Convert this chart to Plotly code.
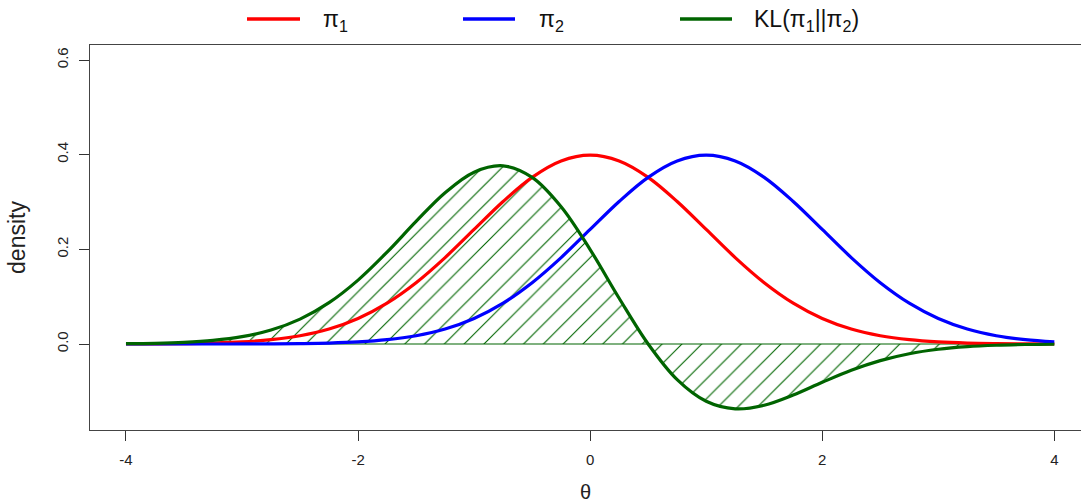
import plotly.graph_objects as go

# theta grid (step 0.25) and densities
theta = [-4.0, -3.75, -3.5, -3.25, -3.0, -2.75, -2.5, -2.25, -2.0, -1.75, -1.5, -1.25,
         -1.0, -0.75, -0.5, -0.25, 0.0, 0.25, 0.5, 0.75, 1.0, 1.25, 1.5, 1.75,
         2.0, 2.25, 2.5, 2.75, 3.0, 3.25, 3.5, 3.75, 4.0]

pi1 = [0.0001, 0.0004, 0.0009, 0.0020, 0.0044, 0.0091, 0.0175, 0.0317, 0.0540, 0.0863,
       0.1295, 0.1826, 0.2420, 0.3011, 0.3521, 0.3867, 0.3989, 0.3867, 0.3521, 0.3011,
       0.2420, 0.1826, 0.1295, 0.0863, 0.0540, 0.0317, 0.0175, 0.0091, 0.0044, 0.0020,
       0.0009, 0.0004, 0.0001]

pi2 = [0.0000, 0.0000, 0.0000, 0.0000, 0.0001, 0.0004, 0.0009, 0.0020, 0.0044,
       0.0091, 0.0175, 0.0317, 0.0540, 0.0863, 0.1295, 0.1826, 0.2420, 0.3011, 0.3521,
       0.3867, 0.3989, 0.3867, 0.3521, 0.3011, 0.2420, 0.1826, 0.1295, 0.0863, 0.0540,
       0.0317, 0.0175, 0.0091, 0.0044]

kl = [0.0006, 0.0015, 0.0035, 0.0076, 0.0155, 0.0295, 0.0526, 0.0873, 0.1350, 0.1941,
      0.2590, 0.3196, 0.3630, 0.3764, 0.3521, 0.2900, 0.1995, 0.0967, 0.0000, -0.0753,
      -0.1210, -0.1370, -0.1295, -0.1079, -0.0810, -0.0555, -0.0351, -0.0205, -0.0111,
      -0.0056, -0.0026, -0.0011, -0.0005]

x_ticks = [-4, -2, 0, 2, 4]
y_ticks = [0.0, 0.2, 0.4, 0.6]
y_ticklabels = ["0.0", "0.2", "0.4", "0.6"]

RED = "#ff0000"
BLUE = "#0000ff"
GREEN = "#006400"

fig = go.Figure()

# hatched KL area
fig.add_trace(go.Scatter(
    x=theta, y=kl, mode="lines", line=dict(color=GREEN, width=0, shape="spline"),
    fill="tozeroy", fillcolor="rgba(0,0,0,0)",
    fillpattern=dict(shape="/", fgcolor=GREEN, bgcolor="rgba(0,0,0,0)", size=14,
                     solidity=0.08, fgopacity=1),
    showlegend=False, hoverinfo="skip"))

fig.add_trace(go.Scatter(x=theta, y=pi1, mode="lines",
                         line=dict(color=RED, width=3.2, shape="spline"), showlegend=False))
fig.add_trace(go.Scatter(x=theta, y=pi2, mode="lines",
                         line=dict(color=BLUE, width=3.2, shape="spline"), showlegend=False))
fig.add_trace(go.Scatter(x=theta, y=kl, mode="lines",
                         line=dict(color=GREEN, width=3.2, shape="spline"), showlegend=False))

# polygon baseline
fig.add_shape(type="line", xref="x", yref="y", x0=theta[0], x1=theta[-1], y0=0, y1=0,
              line=dict(color=GREEN, width=1.2), layer="below")

W, H = 1081, 503
L, R_, T, B = 90, 0, 45, 73
PW, PH = W - L - R_, H - T - B
legend_items = [("π<sub>1</sub>", RED, 247, 300, 321),
                ("π<sub>2</sub>", BLUE, 463, 515, 537),
                ("KL(π<sub>1</sub>||π<sub>2</sub>)", GREEN, 680, 732, 752)]
ly_line = 1 + (T - 19) / PH
ly_text = 1 + (T - 20) / PH
for text, col, x0, x1, xt in legend_items:
    fig.add_shape(type="line", xref="paper", yref="paper",
                  x0=(x0 - L) / PW, x1=(x1 - L) / PW,
                  y0=ly_line, y1=ly_line, line=dict(color=col, width=3.5))
    fig.add_annotation(xref="paper", yref="paper", x=(xt - L) / PW,
                       y=ly_text, text=text, showarrow=False,
                       xanchor="left", yanchor="middle",
                       font=dict(size=23, color="#111111", family="Liberation Sans, Arial"))

fig.update_layout(
    width=W, height=H,
    margin=dict(l=L, r=R_, t=T, b=B, autoexpand=False),
    paper_bgcolor="white", plot_bgcolor="white",
    font=dict(family="Liberation Sans, Arial", color="#111111"),
    showlegend=False,
    xaxis=dict(range=[-4.31, 4.23], tickvals=x_ticks, ticktext=[str(v) for v in x_ticks],
               showgrid=False, zeroline=False, showline=True, linecolor="#444444", linewidth=1.3,
               mirror=True, ticks="outside", ticklen=10, tickcolor="#333333", tickwidth=1.2,
               tickfont=dict(size=15, color="#222222"), ticklabelstandoff=6, automargin=False,
               title=dict(text="θ", font=dict(size=20, color="#222222"), standoff=26)),
    yaxis=dict(range=[-0.1817, 0.6317], tickvals=y_ticks, ticktext=y_ticklabels,
               showgrid=False, zeroline=False, showline=True, linecolor="#444444", linewidth=1.3,
               ticks="outside", ticklen=10, tickcolor="#333333", tickwidth=1.2, tickangle=-90,
               tickfont=dict(size=15, color="#222222"), ticklabelstandoff=5, automargin=False,
               title=dict(text="density", font=dict(size=23, color="#222222"), standoff=21)),
)

fig.write_html("out.html", config={"displayModeBar": False},
               post_script="document.body.style.margin='0';document.body.style.overflow='hidden';")
